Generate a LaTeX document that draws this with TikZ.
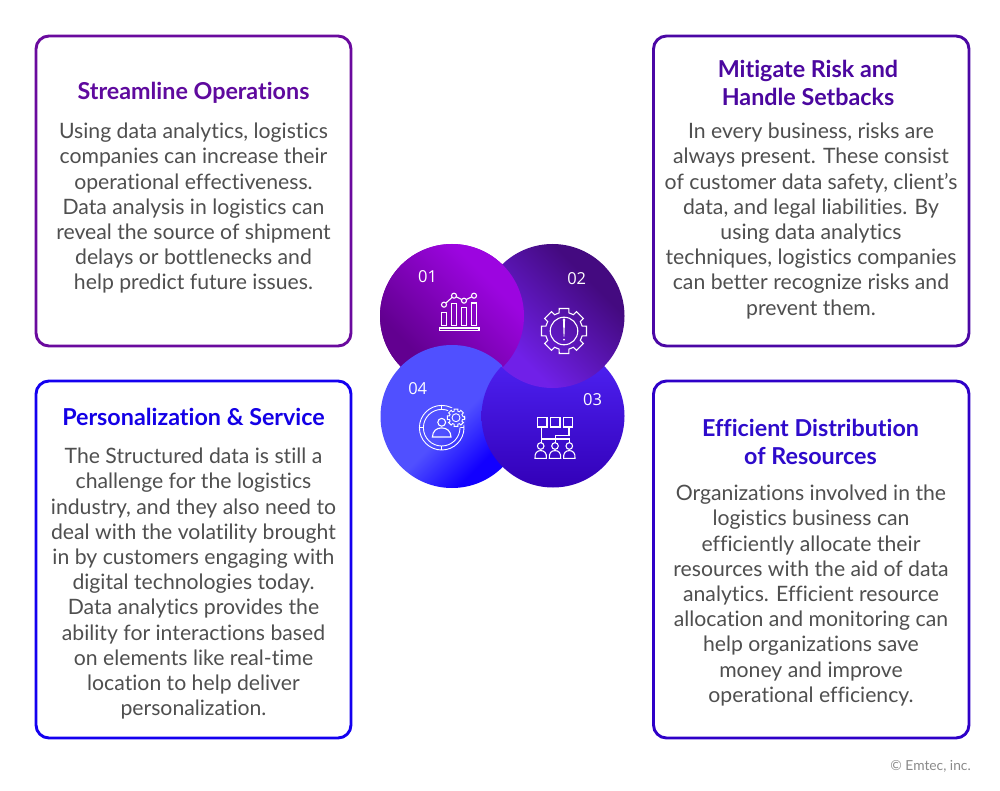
\documentclass[tikz,border=0pt]{standalone}
\usepackage{fontspec}
\setmainfont{Lato}[Ligatures=NoCommon]
\newfontfamily\numfont{Open Sans}
\definecolor{edgeA}{HTML}{6A0A9E}
\definecolor{edgeB}{HTML}{4B07A5}
\definecolor{edgeC}{HTML}{1400F0}
\definecolor{edgeD}{HTML}{2E00C8}
\definecolor{headA}{HTML}{5F0A9E}
\definecolor{headB}{HTML}{4B079F}
\definecolor{headC}{HTML}{1400E6}
\definecolor{headD}{HTML}{2E0BCB}
\definecolor{bodytxt}{HTML}{4F4F4F}
\definecolor{copytxt}{HTML}{8A8A8A}
\definecolor{c1a}{HTML}{9C05E0}\definecolor{c1b}{HTML}{620090}
\definecolor{c2a}{HTML}{440A80}\definecolor{c2b}{HTML}{7020E8}
\definecolor{c3a}{HTML}{5025F8}\definecolor{c3b}{HTML}{3300B8}
\definecolor{c4a}{HTML}{5050FF}\definecolor{c4b}{HTML}{1200FF}
\pgfdeclarehorizontalshading{sA}{100bp}{color(0bp)=(c1b);color(32bp)=(c1b);color(68bp)=(c1a);color(100bp)=(c1a)}
\pgfdeclarehorizontalshading{sB}{100bp}{color(0bp)=(c2a);color(32bp)=(c2a);color(68bp)=(c2b);color(100bp)=(c2b)}
\pgfdeclareverticalshading{sC}{100bp}{color(0bp)=(c3b);color(25bp)=(c3b);color(75bp)=(c3a);color(100bp)=(c3a)}
\pgfdeclarehorizontalshading{sD}{100bp}{color(0bp)=(c4a);color(52bp)=(c4a);color(69bp)=(c4b);color(100bp)=(c4b)}
\tikzset{
 x=1pt,y=-1pt,
 card/.style={draw=#1,line width=2.9pt,rounded corners=13pt,fill=white},
 head/.style={text=#1,font=\fontsize{23.3}{28}\selectfont\bfseries,align=center,anchor=north,inner sep=0pt},
 bodyt/.style={text=bodytxt,font=\fontsize{21.2}{25.2}\selectfont,align=center,anchor=north,inner sep=0pt},
 num/.style={text=white,font=\numfont\fontsize{16.5}{17}\selectfont,inner sep=0pt},
 ico/.style={draw=white,line width=1.1pt,line join=miter},
 copyt/.style={text=copytxt,font=\fontsize{13.8}{15}\selectfont,inner sep=0pt,anchor=east},
 discA/.style={shading=sA,shading angle=45},
 discB/.style={shading=sB,shading angle=225},
 discC/.style={shading=sC},
 discD/.style={shading=sD,shading angle=-45},
}
\begin{document}
\begin{tikzpicture}
\useasboundingbox (0,0) rectangle (1000,791);
\fill[white] (0,0) rectangle (1000,791);
% cards
\draw[card=edgeA] (36,36) rectangle (351,346);
\draw[card=edgeB] (653.5,36) rectangle (969,346);
\draw[card=edgeC] (36,381) rectangle (351,738);
\draw[card=edgeD] (653.5,381) rectangle (969,738);
% headings
\node[head=headA] (h1) at (193.5,82.3) {Streamline Operations};
\node[head=headB] (h2) at (808,60.3) {Mitigate Risk and\\Handle Setbacks};
\node[head=headC] (h3) at (193.5,408.3) {Personalization \& Service};
\node[head=headD] (h4) at (810.5,419.3) {Efficient Distribution\\of Resources};
% bodies
\node[bodyt] (b1) at (193.5,122.8) {Using data analytics, logistics\\companies can increase their\\operational effectiveness.\\Data analysis in logistics can\\reveal the source of shipment\\delays or bottlenecks and\\help predict future issues.};
\node[bodyt] (b2) at (811,122.8) {In every business, risks are\\always present. These consist\\of customer data safety, client’s\\data, and legal liabilities. By\\using data analytics\\techniques, logistics companies\\can better recognize risks and\\prevent them.};
\node[bodyt] (b3) at (193.5,447.8) {The Structured data is still a\\challenge for the logistics\\industry, and they also need to\\deal with the volatility brought\\in by customers engaging with\\digital technologies today.\\Data analytics provides the\\ability for interactions based\\on elements like real-time\\location to help deliver\\personalization.};
\node[bodyt] (b4) at (811,484.8) {Organizations involved in the\\logistics business can\\efficiently allocate their\\resources with the aid of data\\analytics. Efficient resource\\allocation and monitoring can\\help organizations save\\money and improve\\operational efficiency.};
% discs: each one overlaps the next like a pinwheel
\shade[discA] (452,316) circle (72);
\shade[discD] (452,416.5) circle (71.5);
\shade[discC] (553,416) circle (71.5);
\shade[discB] (552.5,316) circle (72);
\begin{scope}
\clip (370,230) rectangle (640,366.3);
\shade[discA] (452,316) circle (72);
\end{scope}
\begin{scope}
\clip (370,330) rectangle (502.3,366.3);
\shade[discD] (452,416.5) circle (71.5);
\end{scope}
% numbers
\node[num] (n1) at (427.5,276.5) {01};
\node[num] (n2) at (576.7,278.5) {02};
\node[num] (n3) at (592.5,400) {03};
\node[num] (n4) at (417.7,389) {04};
% icon 01
\draw[ico] (439.6,328) rectangle (479,330.7);
\draw[ico] (441.3,312.3) rectangle (446.7,325.7);
\draw[ico] (451.3,303.3) rectangle (456.7,325.7);
\draw[ico] (461.3,307.7) rectangle (466.7,325.7);
\draw[ico] (471.3,303) rectangle (476.7,325.7);
\draw[ico] (444,304.7) circle (2.5);
\draw[ico] (454,295.7) circle (2.5);
\draw[ico] (464,300.7) circle (2.5);
\draw[ico] (474,295.7) circle (2.5);
\draw[ico] (445.9,303) -- (452.1,297.4);
\draw[ico] (456.2,296.8) -- (461.8,299.6);
\draw[ico] (466.2,299.6) -- (471.8,296.8);
% icon 02
\begin{scope}[shift={(564,331)}]
\draw[ico] (-12:23) \foreach \a in {0,45,...,315} { -- (\a-12:23) -- (\a+12:23) -- (\a+15:18.8) -- (\a+30:18.8) } -- cycle;
\draw[ico] (0,0) circle (13.8);
\fill[white] (-1.1,-12.5) -- (1.1,-12.5) -- (0.4,5.5) -- (-0.4,5.5) -- cycle;
\fill[white] (0,8.6) circle (1);
\end{scope}
% icon 03
\draw[ico] (537.7,417.7) rectangle (547,427);
\draw[ico] (550.7,417.7) rectangle (560,427);
\draw[ico] (563.3,417.7) rectangle (572.7,427);
\draw[ico] (541.7,427) -- (541.7,439) -- (569.3,439) -- (569.3,442.5);
\draw[ico] (541.7,439) -- (541.7,442.5);
\draw[ico] (569,427) -- (569,435.5) -- (555.3,435.5) -- (555.3,442.5);
\foreach \dx in {0,14.3,28.6} {
 \begin{scope}[xshift=\dx pt]
 \draw[ico] (540.7,446) circle (3.3);
 \draw[ico] (535,458.3) .. controls (534.6,453) and (537,450.6) .. (540.7,450.6) .. controls (544.4,450.6) and (546.8,453) .. (546.4,458.3) -- cycle;
 \end{scope}
}
% icon 04
\draw[ico,line width=.9pt] (441.7,427.7) circle (22.3);
\draw[ico,line width=.9pt] (441.7,427.7) circle (18.3);
\draw[ico] (441.7,405.4) -- (441.7,409.4);
\draw[ico] (441.7,446) -- (441.7,450);
\draw[ico] (419.4,427.7) -- (423.4,427.7);
\draw[ico] (460,427.7) -- (464,427.7);
\begin{scope}[shift={(456,417.7)}]
\fill[c4a] (0,0) circle (10.6);
\draw[ico,line width=.9pt] (0:8.8) \foreach \a in {0,45,...,315} { -- (\a-12:8.8) -- (\a+12:8.8) -- (\a+15:6.8) -- (\a+30:6.8) } -- cycle;
\draw[ico,line width=.9pt] (0,0) circle (4);
\end{scope}
\draw[ico] (441.7,422.3) circle (3.9);
\draw[ico] (432.4,437) .. controls (432.6,431) and (436.5,427.9) .. (441.7,427.9) .. controls (446.9,427.9) and (450.8,431) .. (451,437) -- cycle;
% copyright
\node[copyt] (c) at (971,766) {© Emtec, inc.};
\end{tikzpicture}
\end{document}
